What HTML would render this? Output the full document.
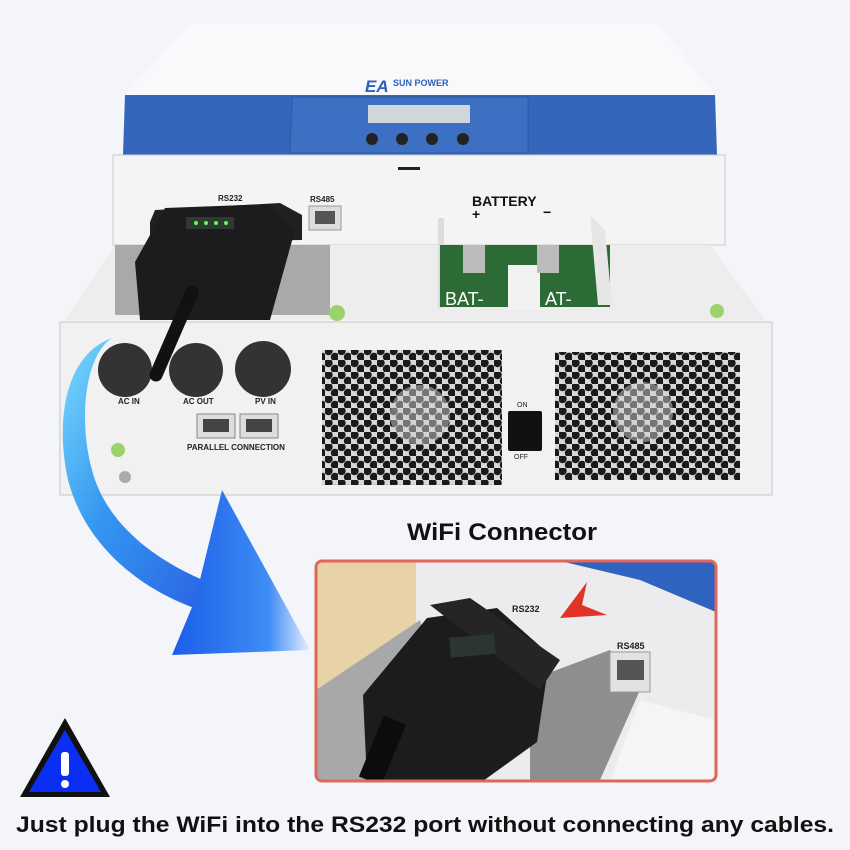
<!DOCTYPE html>
<html><head><meta charset="utf-8"><style>
html,body{margin:0;padding:0;background:#f3f5f9;}
svg{display:block}
text{font-family:"Liberation Sans",sans-serif;}
</style></head><body>
<svg width="850" height="850" viewBox="0 0 850 850" xmlns="http://www.w3.org/2000/svg">
<defs>
<linearGradient id="arr" x1="0" y1="0" x2="1" y2="1">
<stop offset="0" stop-color="#6fd8ff"/><stop offset="0.45" stop-color="#1f8df0"/><stop offset="1" stop-color="#1450e0"/></linearGradient>
<linearGradient id="head" x1="0" y1="0" x2="1" y2="0">
<stop offset="0" stop-color="#1a5ee8"/><stop offset="0.7" stop-color="#3f8cf5"/><stop offset="1" stop-color="#e6efff"/></linearGradient>
<pattern id="hex" width="13" height="12" patternUnits="userSpaceOnUse">
<rect width="13" height="12" fill="#d8d8da"/>
<circle cx="3.5" cy="3" r="4.2" fill="#1a1a1c"/><circle cx="10" cy="9" r="4.2" fill="#1a1a1c"/>
</pattern>
</defs>
<rect width="850" height="850" fill="#f3f5f9"/>
<!-- lid -->
<polygon points="190,23 658,23 715,95 125,95" fill="#f8f9fb"/>
<text x="365" y="92" font-size="17" font-weight="bold" font-style="italic" fill="#2f60b8">EA</text>
<text x="393" y="86" font-size="9" font-weight="bold" fill="#2f60b8">SUN POWER</text>
<polygon points="125,95 715,95 717,155 123,155" fill="#3566bb"/>
<polygon points="292,97 528,97 528,153 290,153" fill="#3d6fc2" stroke="#2c58a8"/>
<rect x="368" y="105" width="102" height="18" fill="#cfd6dc"/>
<circle cx="372" cy="139" r="6" fill="#222"/><circle cx="402" cy="139" r="6" fill="#222"/>
<circle cx="432" cy="139" r="6" fill="#222"/><circle cx="463" cy="139" r="6" fill="#222"/>
<!-- upper front -->
<rect x="113" y="155" width="612" height="90" fill="#f4f4f5" stroke="#ccc"/>
<rect x="398" y="167" width="22" height="3" fill="#222"/>
<text x="218" y="201" font-size="8" font-weight="bold" fill="#222">RS232</text>
<text x="310" y="202" font-size="8" font-weight="bold" fill="#222">RS485</text>
<rect x="309" y="206" width="32" height="24" fill="#ddd" stroke="#999"/><rect x="315" y="211" width="20" height="13" fill="#555"/>
<text x="472" y="206" font-size="14" font-weight="bold" fill="#111">BATTERY</text>
<text x="472" y="219" font-size="14" font-weight="bold" fill="#111">+</text>
<text x="543" y="217" font-size="14" font-weight="bold" fill="#111">−</text>
<!-- shelf -->
<polygon points="115,245 710,245 765,320 65,320" fill="#ededee"/>
<rect x="115" y="245" width="215" height="70" fill="#a9a9ab"/>
<rect x="438" y="218" width="6" height="90" fill="#dcdcdc"/>
<rect x="440" y="245" width="170" height="62" fill="#2c6b35"/>
<rect x="508" y="265" width="32" height="45" fill="#f2f2f2"/>
<text x="445" y="305" font-size="18" fill="#fff">BAT-</text><text x="545" y="305" font-size="18" fill="#fff">AT-</text>
<rect x="463" y="245" width="22" height="28" fill="#bbb"/><rect x="537" y="245" width="22" height="28" fill="#bbb"/>
<polygon points="590,215 605,230 612,305 598,305" fill="#e6e6e6"/>
<circle cx="337" cy="313" r="8" fill="#9bd36a"/><circle cx="717" cy="311" r="7" fill="#9bd36a"/>
<!-- lower box -->
<rect x="60" y="322" width="712" height="173" fill="#f1f1f2" stroke="#c8c8c8"/>
<rect x="322" y="350" width="180" height="135" fill="url(#hex)"/>
<rect x="555" y="352" width="185" height="128" fill="url(#hex)"/>
<circle cx="420" cy="415" r="30" fill="#cfcfd3" opacity="0.5"/>
<circle cx="643" cy="412" r="30" fill="#cfcfd3" opacity="0.5"/>
<rect x="508" y="411" width="34" height="40" fill="#111" rx="2"/>
<text x="517" y="407" font-size="7" fill="#222">ON</text><text x="514" y="459" font-size="7" fill="#222">OFF</text>
<circle cx="125" cy="370" r="27" fill="#333"/><circle cx="196" cy="370" r="27" fill="#333"/><circle cx="263" cy="369" r="28" fill="#333"/>
<text x="118" y="404" font-size="8" font-weight="bold" fill="#222">AC IN</text>
<text x="183" y="404" font-size="8" font-weight="bold" fill="#222">AC OUT</text>
<text x="255" y="404" font-size="8" font-weight="bold" fill="#222">PV IN</text>
<rect x="197" y="414" width="38" height="24" fill="#ddd" stroke="#888"/><rect x="203" y="419" width="26" height="13" fill="#444"/>
<rect x="240" y="414" width="38" height="24" fill="#ddd" stroke="#888"/><rect x="246" y="419" width="26" height="13" fill="#444"/>
<text x="187" y="450" font-size="8" font-weight="bold" fill="#222">PARALLEL CONNECTION</text>
<circle cx="118" cy="450" r="7" fill="#9bd36a"/><circle cx="125" cy="477" r="6" fill="#aaa"/>
<!-- dongle -->
<polygon points="155,210 280,203 302,215 302,240 150,242 150,222" fill="#202022"/>
<polygon points="165,208 270,204 295,230 270,320 140,320 135,262" fill="#1c1c1e"/>
<rect x="186" y="217" width="48" height="12" fill="#2e3a30"/>
<circle cx="196" cy="223" r="2" fill="#5f5"/><circle cx="206" cy="223" r="2" fill="#5f5"/><circle cx="216" cy="223" r="2" fill="#5f5"/><circle cx="226" cy="223" r="2" fill="#5f5"/>
<line x1="192" y1="292" x2="156" y2="375" stroke="#111" stroke-width="13" stroke-linecap="round"/>
<!-- blue arrow -->
<path d="M112,338 C85,355 78,420 92,470 C105,520 150,560 215,585 L200,610 C140,590 85,545 68,480 C55,420 65,355 112,338 Z" fill="url(#arr)" opacity="0.9"/>
<polygon points="222,490 310,650 172,655 195,600" fill="url(#head)"/>
<!-- heading -->
<text x="502" y="540" font-size="24" font-weight="bold" fill="#111" text-anchor="middle" textLength="190" lengthAdjust="spacingAndGlyphs">WiFi Connector</text>
<!-- inset -->
<clipPath id="ic"><rect x="316" y="561" width="400" height="220" rx="6"/></clipPath>
<g clip-path="url(#ic)">
<rect x="316" y="561" width="400" height="220" fill="#ececee"/>
<rect x="316" y="561" width="100" height="130" fill="#e8d2a8"/>
<polygon points="560,561 716,561 716,612 640,580" fill="#2f63c0"/>
<polygon points="316,690 420,620 460,780 316,780" fill="#a8a8aa"/>
<polygon points="530,680 610,650 640,690 600,780 530,780" fill="#8e8e90"/>
<polygon points="640,700 716,720 716,781 610,781" fill="#f5f5f6"/>
<rect x="610" y="652" width="40" height="40" fill="#e2e2e4" stroke="#999"/><rect x="617" y="660" width="27" height="20" fill="#555"/>
<text x="512" y="612" font-size="9" font-weight="bold" fill="#222">RS232</text>
<text x="617" y="649" font-size="9" font-weight="bold" fill="#222">RS485</text>
<polygon points="560,618 587,582 582,605 607,615" fill="#e03524"/>
<polygon points="363,695 427,618 497,608 550,655 537,742 483,781 367,781" fill="#1c1c1e"/>
<polygon points="430,605 470,598 560,660 540,690" fill="#252527"/>
<rect x="450" y="636" width="45" height="20" fill="#2d3530" transform="rotate(-5 470 646)"/>
<line x1="395" y1="720" x2="370" y2="781" stroke="#0c0c0c" stroke-width="24"/>
</g>
<rect x="316" y="561" width="400" height="220" rx="6" fill="none" stroke="#e2665a" stroke-width="3"/>
<!-- warning -->
<polygon points="65,718 20,797 110,797" fill="#111"/>
<polygon points="65,730 29,792 101,792" fill="#0a2ff2"/>
<rect x="61" y="752" width="8" height="24" fill="#fff" rx="3"/><circle cx="65" cy="784" r="4" fill="#fff"/>
<!-- bottom text -->
<text x="16" y="832" font-size="22" font-weight="bold" fill="#111" textLength="818" lengthAdjust="spacingAndGlyphs">Just plug the WiFi into the RS232 port without connecting any cables.</text>
</svg>
</body></html>
